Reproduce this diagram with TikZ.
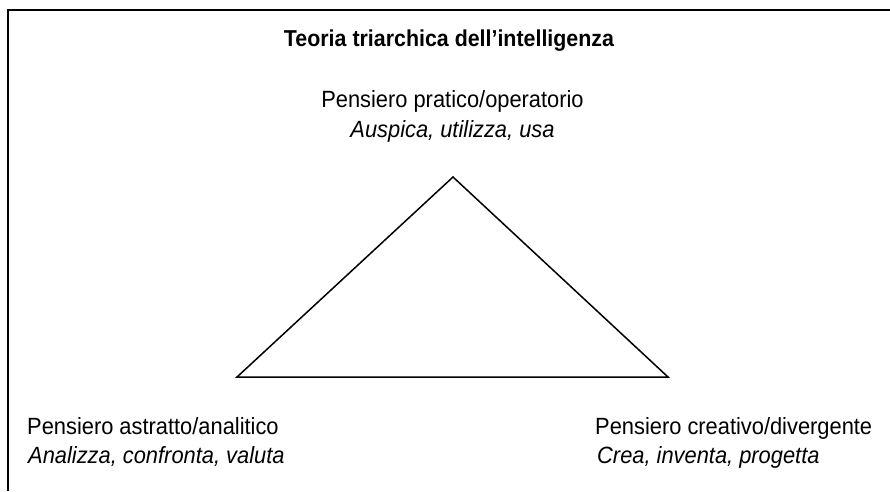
\documentclass[tikz,border=0pt]{standalone}
\usepackage{fontspec}
\setmainfont{Liberation Sans}[FakeStretch=0.93]
\begin{document}
\begin{tikzpicture}[x=1pt,y=-1pt,
		lbl/.style={inner sep=0pt,font=\fontsize{23.5}{26}\selectfont},
		ttl/.style={inner sep=0pt,font=\fontsize{23}{26}\selectfont\bfseries}]
				\useasboundingbox (0,0) rectangle (890,491);
				
				% frame
				\coordinate (F1) at (8,491);
				\coordinate (F2) at (8,10);
				\coordinate (F3) at (890,10);
				\draw[line width=1.5pt] (F1) -- (F2) -- (F3);
				
				\node[ttl,anchor=base] (title) at (449,46){Teoria triarchica dell’intelligenza};
				
				% triangle
				\coordinate (P) at (453,177);
				\coordinate (A) at (237,377);
				\coordinate (C) at (668,377);
				\draw[line width=1.5pt] (A) -- (P) -- (C) -- cycle;
				
				% top
				\node[lbl,anchor=base] (prat) at (452.5,107){Pensiero pratico/operatorio};
				\node[lbl,anchor=base] (pratv) at (452.5,137){\itshape Auspica, utilizza, usa};
				
				% left
				\node[lbl,anchor=base west] (astr) at (27,434){Pensiero astratto/analitico};
				\node[lbl,anchor=base west] (astrv) at (28,463){\itshape Analizza, confronta, valuta};
				
				% right
				\node[lbl,anchor=base west] (crea) at (595,434){Pensiero creativo/divergente};
				\node[lbl,anchor=base west] (creav) at (597,463){\itshape Crea, inventa, progetta};
			\end{tikzpicture}
\end{document}
